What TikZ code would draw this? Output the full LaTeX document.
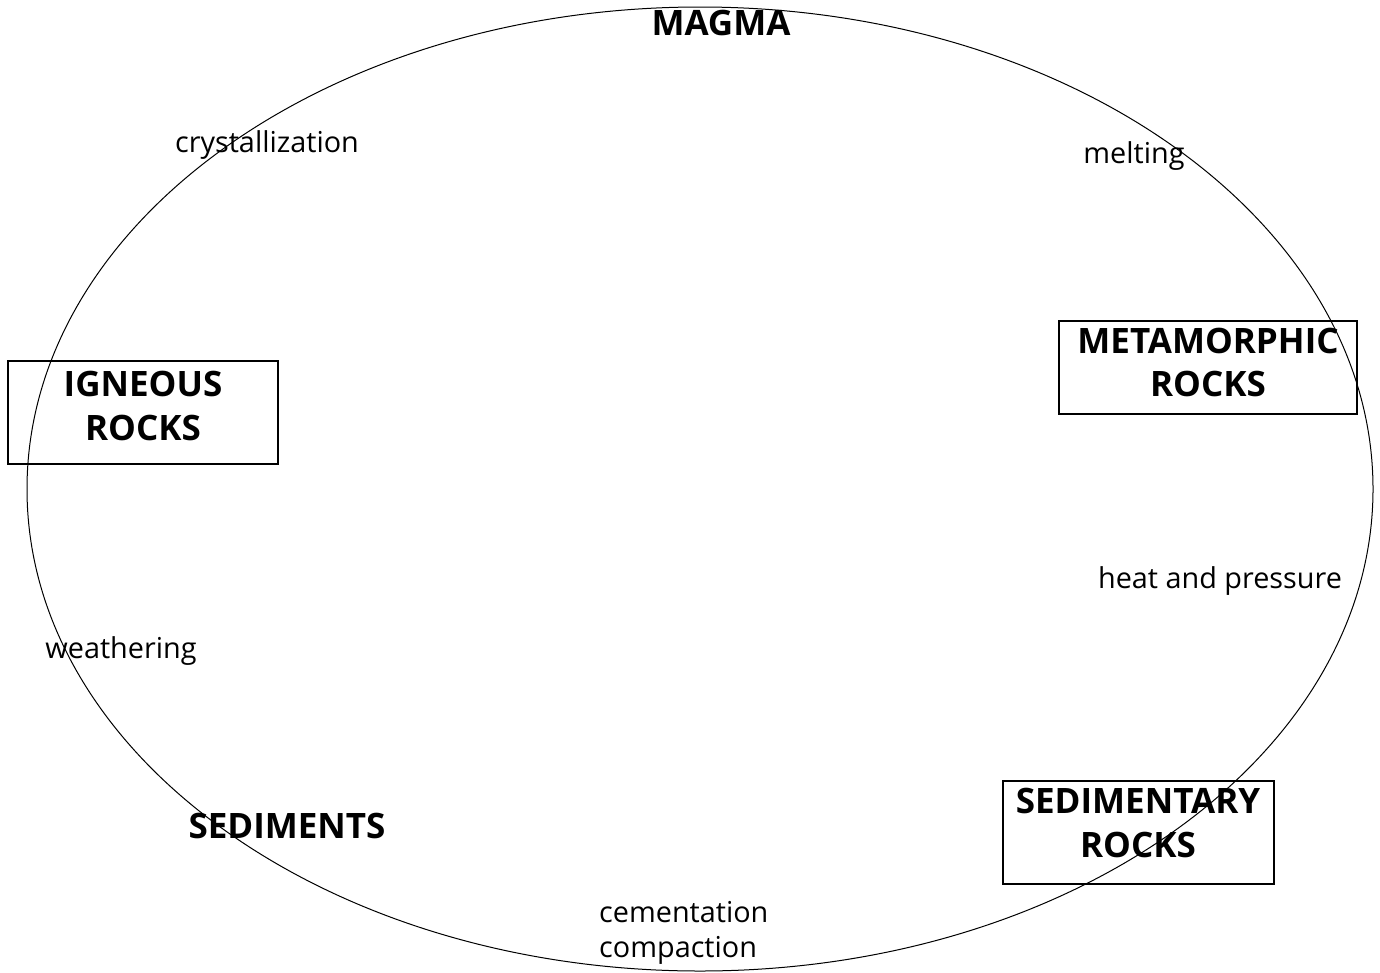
\documentclass[tikz,border=0pt]{standalone}
\usepackage{fontspec}
\setmainfont{Open Sans}
\begin{document}
\begin{tikzpicture}[x=1pt,y=-1pt,
  big/.style={font=\fontsize{35}{44}\selectfont\bfseries, align=center, inner sep=0pt},
  small/.style={font=\fontsize{28.8}{37}\selectfont, inner sep=0pt, anchor=base},
  rockbox/.style={draw, line width=2pt}]
\useasboundingbox (0,0) rectangle (1380,972);
\draw[line width=1pt] (700,489) ellipse [x radius=673, y radius=482];
% boxes
\node[rockbox, minimum width=270, minimum height=103] (igbox) at (143,412.5) {};
\node[rockbox, minimum width=298, minimum height=93] (metbox) at (1208,367.5) {};
\node[rockbox, minimum width=271, minimum height=103] (sedbox) at (1138.5,832.5) {};
% labels
\node[big, anchor=base] (magma) at (721,35) {MAGMA};
\node[big, anchor=base] (ig1) at (143,396) {IGNEOUS};
\node[big, anchor=base] (ig2) at (143,440) {ROCKS};
\node[big, anchor=base] (met1) at (1208,353) {METAMORPHIC};
\node[big, anchor=base] (met2) at (1208,396) {ROCKS};
\node[big, anchor=base] (sr1) at (1138,813) {SEDIMENTARY};
\node[big, anchor=base] (sr2) at (1138,857) {ROCKS};
\node[big, anchor=base] (sed) at (287,838) {SEDIMENTS};
\node[small] (cry) at (267,152) {crystallization};
\node[small] (melt) at (1134,163) {melting};
\node[small] (heat) at (1220,588) {heat and pressure};
\node[small] (weath) at (121,658) {weathering};
\node[small, anchor=base west] (cem) at (599,922) {cementation};
\node[small, anchor=base west] (comp) at (599,957) {compaction};
\end{tikzpicture}
\end{document}
